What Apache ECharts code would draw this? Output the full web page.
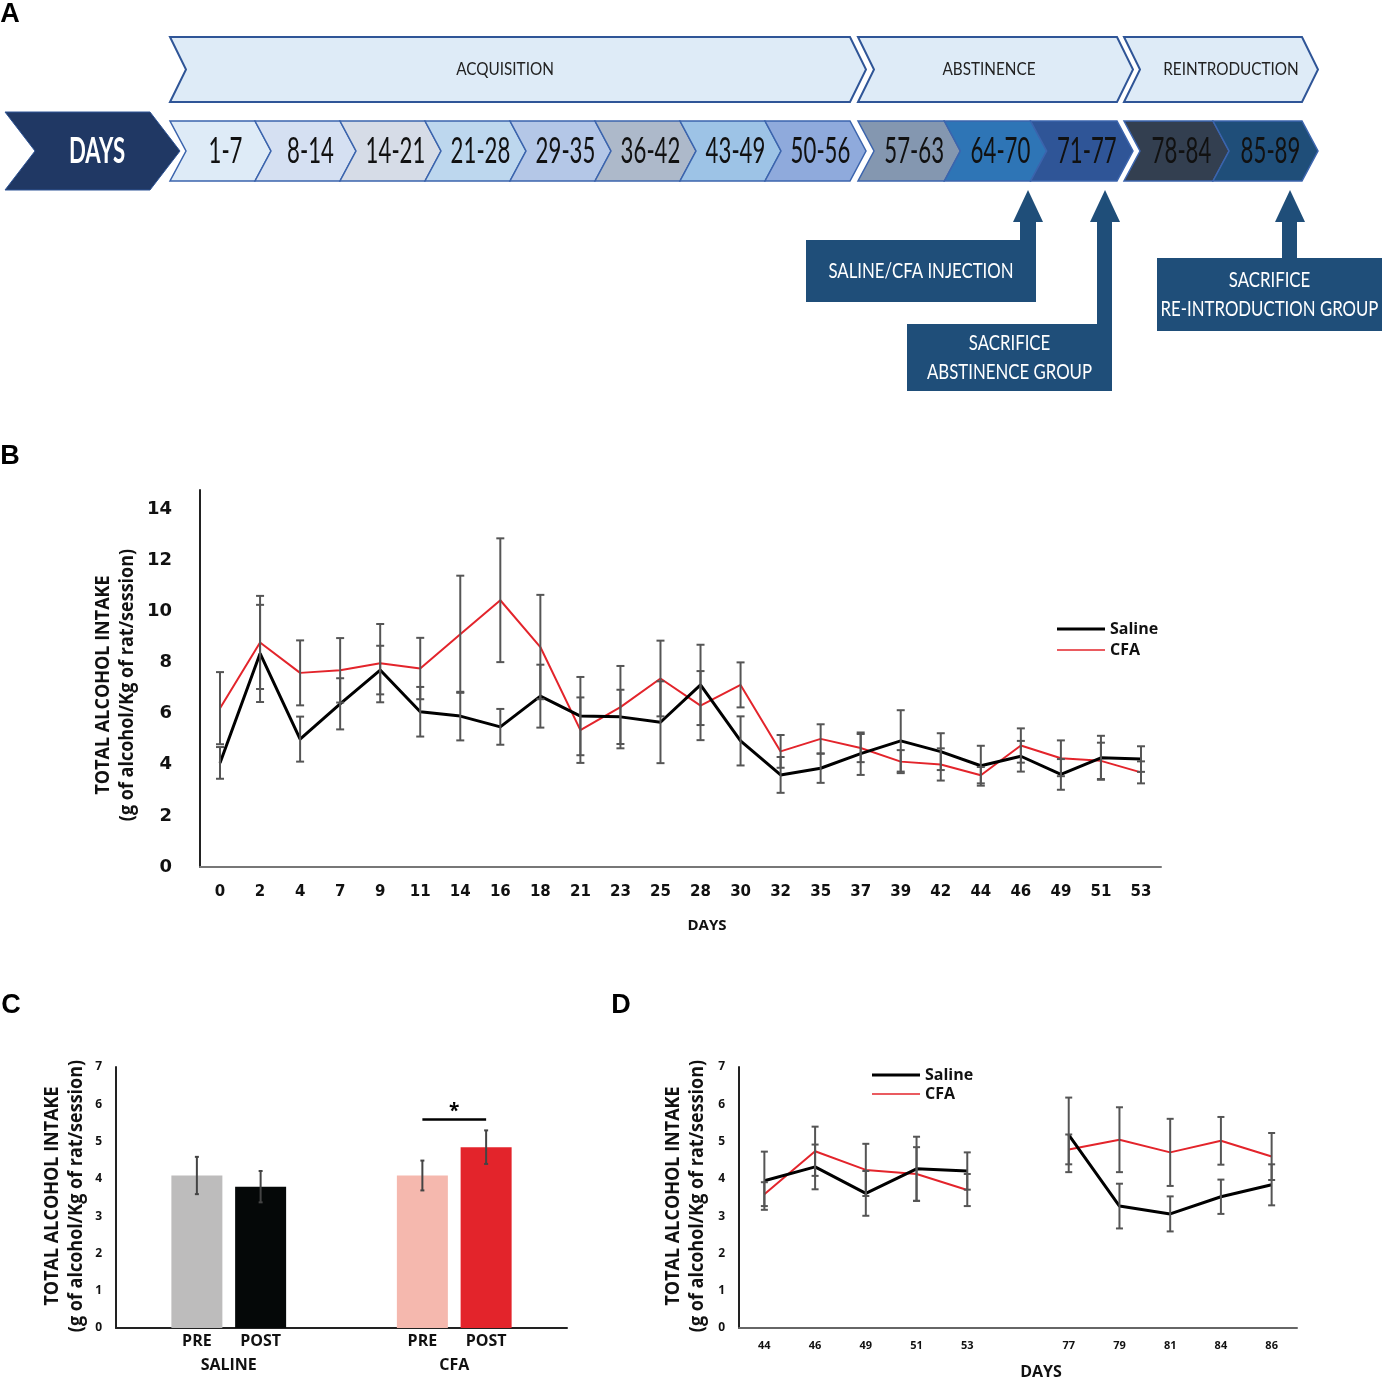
<!DOCTYPE html>
<html>
<head>
<meta charset="utf-8">
<script src="https://cdn.jsdelivr.net/npm/echarts@6.0.0/dist/echarts.min.js"></script>
<style>
html, body { margin: 0; padding: 0; background: #fff; }
#main { width: 1382px; height: 1381px; }
</style>
</head>
<body>
<div id="main"></div>
<script>
// ---- panel A: timeline ----
var phaseNames = ['ACQUISITION', 'ABSTINENCE', 'REINTRODUCTION'];
var phaseWeeks = [8, 3, 2];
var weekLabels = ['1-7', '8-14', '14-21', '21-28', '29-35', '36-42', '43-49', '50-56',
                  '57-63', '64-70', '71-77', '78-84', '85-89'];
var weekColors = ['#deebf7', '#d5e0f2', '#d6dce7', '#bdd7ee', '#b4c7e7', '#adb9ca', '#9dc3e6', '#8faadc',
                  '#8497b0', '#2e75b6', '#2f5597', '#333f50', '#1f4e79'];

// ---- panel B: daily intake ----
var daysB = ['0', '2', '4', '7', '9', '11', '14', '16', '18', '21', '23', '25', '28', '30', '32', '35',
             '37', '39', '42', '44', '46', '49', '51', '53'];
var salineB = [4.07, 8.35, 5.0, 6.38, 7.7, 6.07, 5.9, 5.48, 6.68, 5.9, 5.87, 5.66, 7.12, 4.93, 3.6, 3.86,
               4.43, 4.93, 4.51, 3.96, 4.33, 3.62, 4.27, 4.22];
var salineBErr = [0.62, 1.9, 0.88, 1.0, 0.95, 0.97, 0.95, 0.7, 1.23, 1.53, 1.06, 1.6, 1.57, 0.96, 0.7, 0.57,
                  0.83, 1.2, 0.72, 0.78, 0.6, 0.6, 0.86, 0.5];
var cfaB = [6.21, 8.78, 7.59, 7.69, 7.97, 7.76, 9.1, 10.43, 8.6, 5.35, 6.25, 7.37, 6.31, 7.12, 4.52, 5.01,
            4.65, 4.12, 4.01, 3.59, 4.75, 4.25, 4.15, 3.7];
var cfaBErr = [1.41, 1.82, 1.27, 1.26, 1.53, 1.2, 2.29, 2.42, 2.04, 1.28, 1.61, 1.48, 1.35, 0.88, 0.64, 0.57,
               0.55, 0.45, 0.63, 0.32, 0.67, 0.7, 0.71, 0.43];

// ---- panel C: pre / post injection ----
var groupsC = ['SALINE', 'CFA'];
var preC = [4.09, 4.09];
var preCErr = [0.5, 0.4];
var postC = [3.79, 4.85];
var postCErr = [0.42, 0.45];
var preColors = ['#bdbcbc', '#f5b8ae'];
var postColors = ['#050808', '#e3242b'];
var sigC = 5.59;

// ---- panel D: abstinence vs reintroduction ----
var daysD = ['44', '46', '49', '51', '53', '', '77', '79', '81', '84', '86'];
var salineD = [3.95, 4.32, 3.61, 4.27, 4.21, null, 5.18, 3.27, 3.06, 3.52, 3.84];
var salineDErr = [0.78, 0.6, 0.6, 0.86, 0.5, null, 1.0, 0.6, 0.47, 0.46, 0.55];
var cfaD = [3.59, 4.74, 4.24, 4.13, 3.7, null, 4.79, 5.05, 4.71, 5.02, 4.6];
var cfaDErr = [0.32, 0.66, 0.7, 0.72, 0.43, null, 0.4, 0.87, 0.9, 0.64, 0.63];

var FONT = 'Open Sans';     // chart labels
var FONT_A = 'Lato';        // timeline text
var BAR_W = 51, BAR_GAP = 0.25;

function txt(x, y, text, size, weight, color, extra, family) {
    var el = {
        type: 'text', x: x, y: y, z: 10,
        style: {
            text: text, fontSize: size, fontFamily: family || FONT, fontWeight: weight || 'normal',
            fill: color || '#111', align: 'center', verticalAlign: 'middle',
            textAlign: 'center', textVerticalAlign: 'middle'
        }
    };
    for (var k in (extra || {})) el[k] = extra[k];
    return el;
}

function chevron(x0, x1, top, bottom, d) {
    var mid = (top + bottom) / 2;
    return [[x0, top], [x1 - d, top], [x1, mid], [x1 - d, bottom], [x0, bottom], [x0 + d, mid]];
}

// build the timeline
var graphics = [];
var phaseX0 = [170, 858, 1124], phaseX1 = [866, 1133, 1318];
var phaseLabelX = [505, 989, 1231];
var NOTCH = 16;
var wi = 0;
graphics.push({type: 'polygon', shape: {points: chevron(5, 180, 112, 190, 30)},
    style: {fill: '#203864', stroke: '#2f5597', lineWidth: 1}});
graphics.push(txt(97, 151, 'DAYS', 37, 'bold', '#fff', {scaleX: 0.6}, FONT_A));
phaseNames.forEach(function (name, p) {
    var x0 = phaseX0[p], x1 = phaseX1[p], n = phaseWeeks[p];
    graphics.push({type: 'polygon', shape: {points: chevron(x0, x1, 37, 102, NOTCH)},
        style: {fill: '#deebf7', stroke: '#2f5597', lineWidth: 2}});
    graphics.push(txt(phaseLabelX[p], 70, name, 17, 'normal', '#222', {scaleX: 0.9}, FONT_A));
    var w = (x1 - x0 + (n - 1) * NOTCH) / n;
    for (var k = 0; k < n; k++) {
        var a = x0 + k * (w - NOTCH), b = a + w;
        graphics.push({type: 'polygon', shape: {points: chevron(a, b, 121, 181, NOTCH)},
            style: {fill: weekColors[wi], stroke: '#3b64ad', lineWidth: 1.5}});
        graphics.push(txt((a + NOTCH + b) / 2 - 3, 151, weekLabels[wi], 37, 'normal', '#111', {scaleX: 0.6}, FONT_A));
        wi++;
    }
});

// callout boxes with arrows
var callouts = [
    {text: 'SALINE/CFA INJECTION', box: [806, 240, 230, 62], shaft: [1020, 16], tipX: 1028},
    {text: 'SACRIFICE\nABSTINENCE GROUP', box: [907, 324, 205, 67], shaft: [1097, 15], tipX: 1105},
    {text: 'SACRIFICE\nRE-INTRODUCTION GROUP', box: [1157, 258, 225, 73], shaft: [1282, 15], tipX: 1290}
];
callouts.forEach(function (c) {
    var col = '#1f4e79';
    graphics.push({type: 'rect', shape: {x: c.box[0], y: c.box[1], width: c.box[2], height: c.box[3]},
        style: {fill: col}});
    graphics.push({type: 'rect', shape: {x: c.shaft[0], y: 220, width: c.shaft[1], height: c.box[1] - 220 + 1},
        style: {fill: col}});
    graphics.push({type: 'polygon', shape: {points: [[c.tipX - 15, 222], [c.tipX + 15, 222], [c.tipX, 190]]},
        style: {fill: col}});
    var t = txt(c.box[0] + c.box[2] / 2, c.box[1] + c.box[3] / 2, c.text, 21, 'normal', '#fff', {scaleX: 0.8}, FONT_A);
    t.style.lineHeight = 29;
    graphics.push(t);
});

// panel letters
['A', 'B', 'C', 'D'].forEach(function (l, i) {
    var pos = [[10, 15], [10, 457], [11, 1006], [621, 1006]][i];
    graphics.push(txt(pos[0], pos[1], l, 27, 'bold', '#000', null, 'Liberation Sans'));
});

// axis titles
function yTitle(x, y) {
    graphics.push(txt(x, y, 'TOTAL ALCOHOL INTAKE', 18, 'bold', '#111', {rotation: Math.PI / 2, scaleY: 1.05}));
    graphics.push(txt(x + 24, y, '(g of alcohol/Kg of rat/session)', 18, 'bold', '#111', {rotation: Math.PI / 2, scaleY: 1.05}));
}
yTitle(104, 685);
yTitle(53, 1196);
yTitle(674, 1196);
graphics.push(txt(707, 926, 'DAYS', 15, 'bold', '#111'));
graphics.push(txt(1041, 1372, 'DAYS', 16, 'bold', '#111'));

// error bar renderer (category index, low, high)
function errData(vals, errs) {
    return vals.map(function (v, i) {
        return v == null ? [i, NaN, NaN] : [i, v - errs[i], v + errs[i]];
    });
}
function errRender(cap) {
    return function (params, api) {
        var lo = api.value(1), hi = api.value(2);
        if (isNaN(lo)) return;
        var p1 = api.coord([api.value(0), hi]);
        var p2 = api.coord([api.value(0), lo]);
        var st = {stroke: '#555', lineWidth: 2};
        return {type: 'group', children: [
            {type: 'line', shape: {x1: p1[0], y1: p1[1], x2: p2[0], y2: p2[1]}, style: st},
            {type: 'line', shape: {x1: p1[0] - cap, y1: p1[1], x2: p1[0] + cap, y2: p1[1]}, style: st},
            {type: 'line', shape: {x1: p2[0] - cap, y1: p2[1], x2: p2[0] + cap, y2: p2[1]}, style: st}
        ]};
    };
}

// bar error bars for panel C: [category, side, low, high]
var errC = [];
preC.forEach(function (v, i) { errC.push([i, -1, v - preCErr[i], v + preCErr[i]]); });
postC.forEach(function (v, i) { errC.push([i, 1, v - postCErr[i], v + postCErr[i]]); });
var barOffset = BAR_W * (1 + BAR_GAP) / 2;

var labelBold = function (size) {
    return {fontFamily: FONT, fontWeight: 'bold', fontSize: size, color: '#111'};
};

// one legend per line so each keeps its own stroke weight
function legendItem(name, left, top, thick, size) {
    return {data: [name], icon: 'rect', left: left, top: top, itemWidth: 48, itemHeight: thick,
        itemGap: 0, textStyle: labelBold(size), selectedMode: false};
}

var chart = echarts.init(document.getElementById('main'));

var option = {
    animation: false,
    backgroundColor: '#fff',
    textStyle: {fontFamily: FONT},
    grid: [
        {left: 200, top: 490, width: 961, height: 377, outerBoundsMode: 'none'},
        {left: 116, top: 1067, width: 451, height: 261, outerBoundsMode: 'none'},
        {left: 739, top: 1067, width: 558, height: 261, outerBoundsMode: 'none'}
    ],
    xAxis: [
        {gridIndex: 0, type: 'category', data: daysB,
            axisLine: {lineStyle: {color: '#777', width: 2}}, axisTick: {show: false},
            axisLabel: {interval: 0, margin: 18, fontFamily: 'DejaVu Sans', fontWeight: 'bold', fontSize: 15, color: '#111'}},
        {gridIndex: 1, type: 'category', data: groupsC,
            axisLine: {lineStyle: {color: '#222', width: 2}}, axisTick: {show: false},
            axisLabel: Object.assign({margin: 29}, labelBold(16))},
        {gridIndex: 2, type: 'category', data: daysD,
            axisLine: {lineStyle: {color: '#666', width: 2}}, axisTick: {show: false},
            axisLabel: Object.assign({interval: 0, margin: 12}, labelBold(11))}
    ],
    yAxis: [
        {gridIndex: 0, type: 'value', min: 0, max: 14.74, interval: 2, splitLine: {show: false},
            axisLine: {show: true, lineStyle: {color: '#222', width: 2}}, axisTick: {show: false},
            axisLabel: {showMaxLabel: false, margin: 28, fontFamily: 'DejaVu Sans', fontWeight: 'bold', fontSize: 18, color: '#111'}},
        {gridIndex: 1, type: 'value', min: 0, max: 7, interval: 1, splitLine: {show: false},
            axisLine: {show: true, lineStyle: {color: '#222', width: 2}}, axisTick: {show: false},
            axisLabel: Object.assign({margin: 14}, labelBold(12))},
        {gridIndex: 2, type: 'value', min: 0, max: 7, interval: 1, splitLine: {show: false},
            axisLine: {show: true, lineStyle: {color: '#222', width: 2}}, axisTick: {show: false},
            axisLabel: Object.assign({margin: 14}, labelBold(12))}
    ],
    legend: [
        legendItem('Saline', 1052, 616, 3, 16),
        legendItem('CFA', 1052, 637, 1.5, 16),
        legendItem('Saline', 867, 1062, 3, 16),
        legendItem('CFA', 867, 1081, 1.5, 16)
    ],
    series: [
        {name: 'Saline', type: 'line', xAxisIndex: 0, yAxisIndex: 0, data: salineB, symbol: 'none',
            lineStyle: {color: '#000', width: 3}, itemStyle: {color: '#000'}, z: 3},
        {name: 'CFA', type: 'line', xAxisIndex: 0, yAxisIndex: 0, data: cfaB, symbol: 'none',
            lineStyle: {color: '#e3242b', width: 2}, itemStyle: {color: '#e3242b'}, z: 2},
        {type: 'custom', xAxisIndex: 0, yAxisIndex: 0, data: errData(salineB, salineBErr),
            renderItem: errRender(4), encode: {x: 0, y: [1, 2]}, z: 5},
        {type: 'custom', xAxisIndex: 0, yAxisIndex: 0, data: errData(cfaB, cfaBErr),
            renderItem: errRender(4), encode: {x: 0, y: [1, 2]}, z: 5},

        {name: 'PRE', type: 'bar', xAxisIndex: 1, yAxisIndex: 1, barWidth: BAR_W, barGap: (BAR_GAP * 100) + '%',
            data: preC.map(function (v, i) { return {value: v, itemStyle: {color: preColors[i]}}; }),
            label: Object.assign({show: true, position: 'bottom', distance: 5, formatter: 'PRE'}, labelBold(16))},
        {name: 'POST', type: 'bar', xAxisIndex: 1, yAxisIndex: 1, barWidth: BAR_W,
            data: postC.map(function (v, i) { return {value: v, itemStyle: {color: postColors[i]}}; }),
            label: Object.assign({show: true, position: 'bottom', distance: 5, formatter: 'POST'}, labelBold(16))},
        {type: 'custom', xAxisIndex: 1, yAxisIndex: 1, data: errC, encode: {x: 0, y: [2, 3]}, z: 5,
            renderItem: function (params, api) {
                var c = api.value(0), side = api.value(1);
                var p1 = api.coord([c, api.value(3)]);
                var p2 = api.coord([c, api.value(2)]);
                var x = p1[0] + side * barOffset, cap = 2;
                var st = {stroke: '#444', lineWidth: 2};
                return {type: 'group', children: [
                    {type: 'line', shape: {x1: x, y1: p1[1], x2: x, y2: p2[1]}, style: st},
                    {type: 'line', shape: {x1: x - cap, y1: p1[1], x2: x + cap, y2: p1[1]}, style: st},
                    {type: 'line', shape: {x1: x - cap, y1: p2[1], x2: x + cap, y2: p2[1]}, style: st}
                ]};
            }},
        {type: 'custom', xAxisIndex: 1, yAxisIndex: 1, data: [[1, sigC]], encode: {x: 0, y: 1}, z: 5,
            renderItem: function (params, api) {
                var p = api.coord([api.value(0), api.value(1)]);
                return {type: 'group', children: [
                    {type: 'line', shape: {x1: p[0] - barOffset, y1: p[1], x2: p[0] + barOffset, y2: p[1]},
                        style: {stroke: '#000', lineWidth: 2.5}},
                    {type: 'text', style: {text: '*', x: p[0], y: p[1] + 2, fontSize: 19, fontWeight: 'bold',
                        fontFamily: FONT, fill: '#000', align: 'center', verticalAlign: 'bottom'}}
                ]};
            }},

        {name: 'Saline', type: 'line', xAxisIndex: 2, yAxisIndex: 2, data: salineD, symbol: 'none',
            lineStyle: {color: '#000', width: 3}, itemStyle: {color: '#000'}, z: 3},
        {name: 'CFA', type: 'line', xAxisIndex: 2, yAxisIndex: 2, data: cfaD, symbol: 'none',
            lineStyle: {color: '#e3242b', width: 2}, itemStyle: {color: '#e3242b'}, z: 2},
        {type: 'custom', xAxisIndex: 2, yAxisIndex: 2, data: errData(salineD, salineDErr),
            renderItem: errRender(3.5), encode: {x: 0, y: [1, 2]}, z: 5},
        {type: 'custom', xAxisIndex: 2, yAxisIndex: 2, data: errData(cfaD, cfaDErr),
            renderItem: errRender(3.5), encode: {x: 0, y: [1, 2]}, z: 5}
    ],
    graphic: graphics
};

chart.setOption(option);
</script>
</body>
</html>
